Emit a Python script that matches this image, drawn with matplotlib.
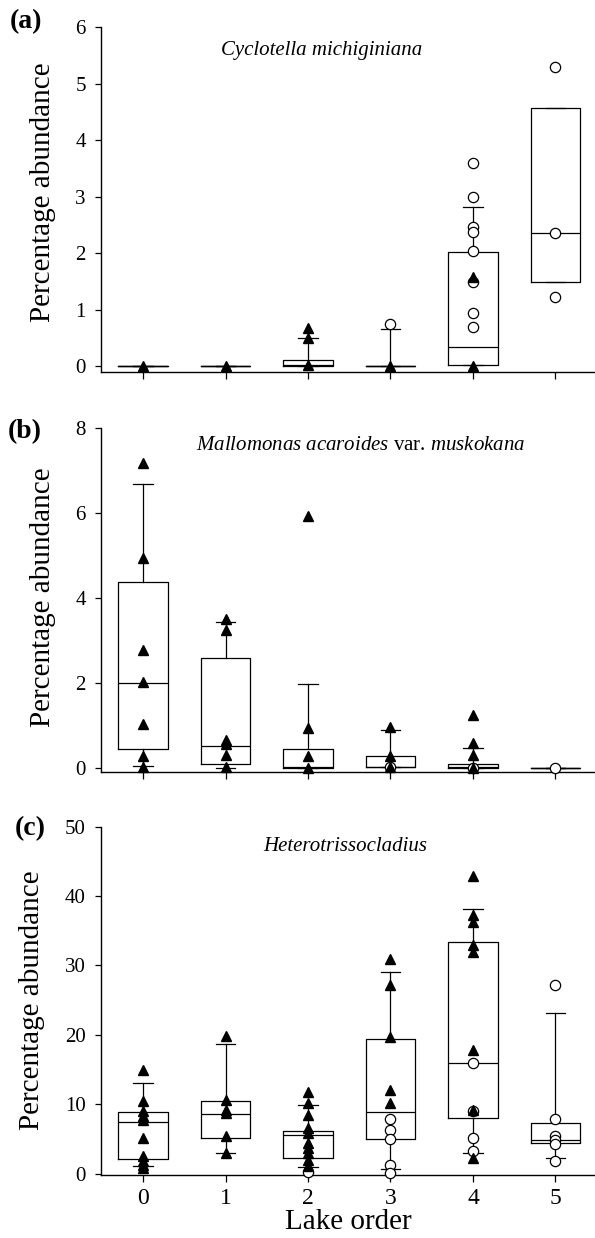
import numpy as np
import matplotlib
matplotlib.use("Agg")
import matplotlib.pyplot as plt

plt.rcParams["font.family"] = ["Liberation Serif", "DejaVu Serif"]
plt.rcParams["mathtext.fontset"] = "custom"
plt.rcParams["mathtext.rm"] = "Liberation Serif"
plt.rcParams["mathtext.it"] = "Liberation Serif:italic"

lake_order = [0, 1, 2, 3, 4, 5]

# (a) Cyclotella michiginiana -- box summaries per lake order
a_q1 = [0, 0, 0, 0, 0.02, 1.5]
a_med = [0, 0, 0.02, 0, 0.35, 2.36]
a_q3 = [0, 0, 0.12, 0, 2.03, 4.56]
a_lo = [0, 0, 0, 0, 0.02, 1.5]
a_hi = [0, 0, 0.5, 0.66, 2.82, 4.56]
a_tri = [[0.0], [0.0], [0.68, 0.5, 0.02], [0.0], [1.58, 0.0], []]
a_circ = [[], [], [], [0.75],
          [3.59, 2.99, 2.46, 2.37, 2.04, 1.49, 0.94, 0.69],
          [5.3, 2.36, 1.22]]

# (b) Mallomonas acaroides var. muskokana
b_q1 = [0.45, 0.08, 0.0, 0.02, 0.0, 0.0]
b_med = [2.0, 0.51, 0.02, 0.02, 0.02, 0.0]
b_q3 = [4.37, 2.58, 0.43, 0.27, 0.09, 0.0]
b_lo = [0.05, 0.0, 0.0, 0.02, 0.0, 0.0]
b_hi = [6.68, 3.43, 1.98, 0.88, 0.46, 0.0]
b_tri = [[7.16, 4.93, 2.76, 2.02, 1.02, 0.27, 0.01],
         [3.5, 3.25, 0.66, 0.56, 0.3, 0.01],
         [5.92, 0.94, 0.27, 0.0],
         [0.95, 0.27, 0.02],
         [1.25, 0.59, 0.31, 0.0],
         []]
b_circ = [[], [], [], [0.02], [0.0], [0.0]]

# (c) Heterotrissocladius
c_q1 = [2.1, 5.2, 2.3, 5.0, 8.0, 4.4]
c_med = [7.4, 8.6, 5.5, 8.9, 15.9, 4.9]
c_q3 = [8.87, 10.4, 6.2, 19.4, 33.4, 7.3]
c_lo = [1.05, 2.9, 1.0, 0.7, 3.0, 2.3]
c_hi = [13.0, 18.7, 9.9, 29.0, 38.1, 23.2]
c_tri = [[14.96, 10.4, 8.97, 8.25, 7.7, 5.1, 2.5, 1.8, 1.3, 0.8],
         [19.8, 10.65, 9.1, 8.7, 5.4, 2.9],
         [11.8, 10.2, 8.5, 6.6, 5.9, 4.4, 3.7, 3.0, 2.0, 1.15],
         [30.9, 27.2, 19.7, 12.1, 10.2],
         [42.9, 37.3, 36.3, 33.0, 32.0, 17.8, 9.1, 2.3],
         []]
c_circ = [[], [], [0.3],
          [7.8, 6.3, 5.0, 1.25, 0.1],
          [15.9, 9.0, 5.1, 3.2],
          [27.2, 7.8, 5.4, 4.9, 4.3, 1.8]]

W, H = 595, 1238
fig = plt.figure(figsize=(W / 100, H / 100), dpi=100)


def px_axes(top, bottom, left=101, right=595):
    return fig.add_axes([left / W, 1 - bottom / H, (right - left) / W, (bottom - top) / H])


def draw_panel(ax, q1, med, q3, lo, hi, tri, circ, ylim, yticks):
    stats = [dict(q1=a, med=m, q3=b, whislo=l, whishi=h)
             for a, m, b, l, h in zip(q1, med, q3, lo, hi)]
    lp = dict(color="black", linewidth=0.9)
    ax.bxp(stats, positions=lake_order, widths=0.6, capwidths=0.24,
           showfliers=False, boxprops=lp, whiskerprops=lp, capprops=lp,
           medianprops=lp, manage_ticks=False, zorder=2)
    for x, vals in zip(lake_order, circ):
        if vals:
            ax.plot(np.full(len(vals), x), vals, "o", ms=7.4, mfc="white",
                    mec="black", mew=0.9, zorder=3, clip_on=False)
    for x, vals in zip(lake_order, tri):
        if vals:
            ax.plot(np.full(len(vals), x), vals, "^", ms=7.8, color="black",
                    zorder=4, clip_on=False)
    ax.set_xlim(-0.51, 5.48)
    ax.set_ylim(*ylim)
    ax.set_yticks(yticks)
    ax.set_xticks(lake_order)
    for s in ("top", "right"):
        ax.spines[s].set_visible(False)
    for s in ("left", "bottom"):
        ax.spines[s].set_linewidth(1.0)
    ax.tick_params(axis="y", direction="out", length=4, width=0.9, pad=7, labelsize=15)
    ax.tick_params(axis="x", direction="out", length=5, width=0.9, pad=4, labelsize=17)


ax_a = px_axes(27, 372)
draw_panel(ax_a, a_q1, a_med, a_q3, a_lo, a_hi, a_tri, a_circ, (-0.1, 6), range(0, 7))
ax_a.set_xticklabels([])

ax_b = px_axes(427.7, 772)
draw_panel(ax_b, b_q1, b_med, b_q3, b_lo, b_hi, b_tri, b_circ, (-0.1, 8), range(0, 9, 2))
ax_b.set_xticklabels([])

ax_c = px_axes(826.7, 1175)
draw_panel(ax_c, c_q1, c_med, c_q3, c_lo, c_hi, c_tri, c_circ, (-0.2, 50), range(0, 51, 10))

# species names
ax_a.text(0.446, 0.919, "Cyclotella michiginiana", style="italic", fontsize=15,
          ha="center", va="baseline", transform=ax_a.transAxes)
ax_b.text(0.526, 0.935, r"$\mathit{Mallomonas\ acaroides}$ var. $\mathit{muskokana}$",
          fontsize=15, ha="center", va="baseline", transform=ax_b.transAxes)
ax_c.text(0.494, 0.930, "Heterotrissocladius", style="italic", fontsize=15,
          ha="center", va="baseline", transform=ax_c.transAxes)

# y-axis titles
for ax, xf, yf in ((ax_a, -0.117, 0.522), (ax_b, -0.117, 0.507), (ax_c, -0.14, 0.502)):
    ax.text(xf, yf, "Percentage abundance", rotation=90, fontsize=21,
            ha="center", va="center", transform=ax.transAxes)

# panel letters
for lbl, x, y in (("(a)", 10, 28), ("(b)", 8, 438), ("(c)", 15, 835)):
    fig.text(x / W, 1 - y / H, lbl, fontsize=20, fontweight="bold",
             ha="left", va="baseline")

fig.text(348.5 / W, 1 - 1222 / H, "Lake order", fontsize=21, ha="center", va="center")

fig.savefig("out.png", dpi=100)
